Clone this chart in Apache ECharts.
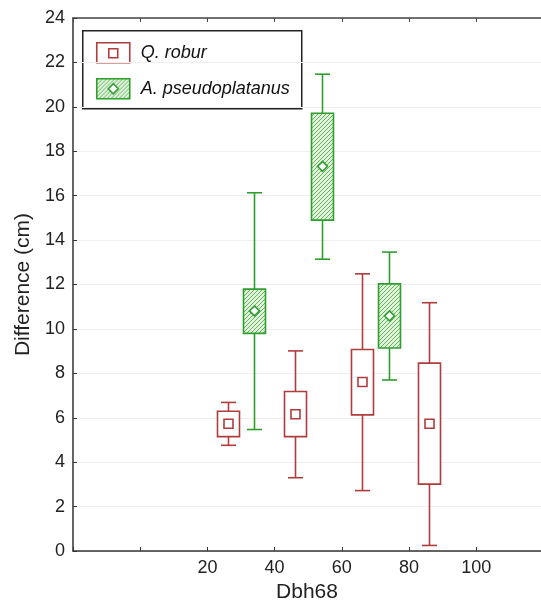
<!DOCTYPE html>
<html lang="en">
<head>
    <meta charset="UTF-8">
    <title>Difference vs Dbh68</title>
    <script type="text/javascript" src="https://cdn.jsdelivr.net/npm/echarts@6/dist/echarts.min.js"></script>
    <style>
        html, body { margin: 0; padding: 0; background: #fff; }
        #main { width: 541px; height: 608px; }
    </style>
</head>
<body>
<div id="main"></div>
<script type="text/javascript">
    // Q. robur
    var robX = [26, 46, 66, 86];
    var robWhLow = [4.76, 3.30, 2.72, 0.25];
    var robBoxLow = [5.15, 5.15, 6.13, 3.01];
    var robBoxHigh = [6.29, 7.18, 9.07, 8.46];
    var robWhHigh = [6.69, 9.01, 12.48, 11.18];
    var robMean = [5.73, 6.16, 7.61, 5.73];

    // A. pseudoplatanus
    var psX = [34, 54, 74];
    var psWhLow = [5.47, 13.14, 7.70];
    var psBoxLow = [9.80, 14.90, 9.14];
    var psBoxHigh = [11.79, 19.71, 12.03];
    var psWhHigh = [16.13, 21.47, 13.46];
    var psMean = [10.81, 17.32, 10.59];

    var xTicksShown = [20, 40, 60, 80, 100];

    var RED = '#b03c3c';
    var GREEN = '#2f9e2f';
    var FONT = 'Liberation Sans, Arial, sans-serif';

    // hatch fill for the green boxes
    function makeHatch() {
        var s = 4;
        var c = document.createElement('canvas');
        c.width = s; c.height = s;
        var ctx = c.getContext('2d');
        ctx.fillStyle = '#e2f2dd';
        ctx.fillRect(0, 0, s, s);
        ctx.strokeStyle = '#5fb858';
        ctx.lineWidth = 1;
        ctx.beginPath();
        ctx.moveTo(-1, s + 1); ctx.lineTo(s + 1, -1);
        ctx.moveTo(-1, 1); ctx.lineTo(1, -1);
        ctx.moveTo(s - 1, s + 1); ctx.lineTo(s + 1, s - 1);
        ctx.stroke();
        return c;
    }
    var hatch = makeHatch();

    function toRows(x, wl, bl, bh, wh, m) {
        var rows = [];
        for (var i = 0; i < x.length; i++) {
            rows.push([x[i], wl[i], bl[i], bh[i], wh[i], m[i]]);
        }
        return rows;
    }

    function boxRenderer(color, fill, marker) {
        return function (params, api) {
            var x = api.value(0);
            var pLo = api.coord([x, api.value(1)]);
            var pQ1 = api.coord([x, api.value(2)]);
            var pQ3 = api.coord([x, api.value(3)]);
            var pHi = api.coord([x, api.value(4)]);
            var pM = api.coord([x, api.value(5)]);
            var cx = Math.round(pQ1[0]) + 0.5;
            var hw = 11, cw = 7.5, ms = 4.5;
            var line = { stroke: color, lineWidth: 1.6 };
            var mk;
            if (marker === 'square') {
                mk = {
                    type: 'rect',
                    shape: { x: cx - ms, y: pM[1] - ms, width: ms * 2, height: ms * 2 },
                    style: { fill: '#fff', stroke: color, lineWidth: 1.6 }
                };
            } else {
                mk = {
                    type: 'polygon',
                    shape: { points: [[cx, pM[1] - ms - 0.5], [cx + ms + 0.5, pM[1]], [cx, pM[1] + ms + 0.5], [cx - ms - 0.5, pM[1]]] },
                    style: { fill: '#fff', stroke: color, lineWidth: 1.6 }
                };
            }
            return {
                type: 'group',
                children: [
                    { type: 'line', shape: { x1: cx, y1: pHi[1], x2: cx, y2: pQ3[1] }, style: line },
                    { type: 'line', shape: { x1: cx, y1: pQ1[1], x2: cx, y2: pLo[1] }, style: line },
                    { type: 'line', shape: { x1: cx - cw, y1: pHi[1], x2: cx + cw, y2: pHi[1] }, style: line },
                    { type: 'line', shape: { x1: cx - cw, y1: pLo[1], x2: cx + cw, y2: pLo[1] }, style: line },
                    {
                        type: 'rect',
                        shape: { x: cx - hw, y: pQ3[1], width: hw * 2, height: pQ1[1] - pQ3[1] },
                        style: { fill: fill, stroke: color, lineWidth: 1.6 }
                    },
                    mk
                ]
            };
        };
    }

    var myChart = echarts.init(document.getElementById('main'));

    var option = {
        backgroundColor: '#fff',
        animation: false,
        grid: { left: 73, top: 18, width: 468, height: 539, containLabel: false },
        xAxis: [{
            type: 'value',
            min: -20, max: 119.3, interval: 20,
            name: 'Dbh68',
            nameLocation: 'middle',
            nameGap: 31,
            nameTextStyle: { fontFamily: FONT, fontSize: 21, color: '#222' },
            axisLine: { onZero: false, lineStyle: { color: '#333', width: 1.5 } },
            axisTick: { inside: true, length: 4, lineStyle: { color: '#333' } },
            axisLabel: {
                fontFamily: FONT, fontSize: 18, color: '#222', margin: 8,
                showMaxLabel: false,
                formatter: function (v) { return xTicksShown.indexOf(v) >= 0 ? String(v) : ''; }
            },
            splitLine: { show: false }
        }, {
            type: 'value',
            position: 'top',
            min: -20, max: 119.3, interval: 20,
            axisLine: { onZero: false, lineStyle: { color: '#444', width: 1.5 } },
            axisTick: { inside: true, length: 4, lineStyle: { color: '#444' } },
            axisLabel: { show: false },
            splitLine: { show: false }
        }],
        yAxis: {
            type: 'value',
            min: 0, max: 24, interval: 2,
            name: 'Difference (cm)',
            nameLocation: 'middle',
            nameGap: 38,
            nameTextStyle: { fontFamily: FONT, fontSize: 21, color: '#222' },
            axisLine: { show: true, onZero: false, lineStyle: { color: '#333', width: 1.5 } },
            axisTick: { show: true, inside: true, length: 4, lineStyle: { color: '#333' } },
            axisLabel: { fontFamily: FONT, fontSize: 18, color: '#222', margin: 8 },
            splitLine: { show: true, lineStyle: { color: '#efefef', width: 1 } }
        },
        series: [{
            name: 'Q. robur',
            type: 'custom',
            renderItem: boxRenderer(RED, '#fff', 'square'),
            encode: { x: 0, y: [1, 2, 3, 4, 5] },
            data: toRows(robX, robWhLow, robBoxLow, robBoxHigh, robWhHigh, robMean),
            z: 3
        }, {
            name: 'A. pseudoplatanus',
            type: 'custom',
            renderItem: boxRenderer(GREEN, { image: hatch, repeat: 'repeat' }, 'diamond'),
            encode: { x: 0, y: [1, 2, 3, 4, 5] },
            data: toRows(psX, psWhLow, psBoxLow, psBoxHigh, psWhHigh, psMean),
            z: 3
        }],
        // legend box drawn by hand (swatches carry the mean markers)
        graphic: [{
            type: 'group',
            left: 82, top: 30, z: 10,
            children: [
                { type: 'rect', shape: { x: 0, y: 0, width: 219, height: 78 }, style: { fill: '#fff', stroke: '#222', lineWidth: 1.5 } },
                { type: 'rect', shape: { x: 14, y: 12, width: 33, height: 20 }, style: { fill: '#fff', stroke: RED, lineWidth: 1.6 } },
                { type: 'rect', shape: { x: 26, y: 18, width: 9, height: 9 }, style: { fill: '#fff', stroke: RED, lineWidth: 1.6 } },
                { type: 'text', x: 58, y: 22, style: { text: 'Q. robur', font: 'italic 18px ' + FONT, fill: '#111', verticalAlign: 'middle' } },
                { type: 'rect', shape: { x: 14, y: 48, width: 33, height: 20 }, style: { fill: { image: hatch, repeat: 'repeat' }, stroke: GREEN, lineWidth: 1.6 } },
                { type: 'polygon', shape: { points: [[30.5, 53], [35.5, 58], [30.5, 63], [25.5, 58]] }, style: { fill: '#fff', stroke: GREEN, lineWidth: 1.6 } },
                { type: 'text', x: 58, y: 58, style: { text: 'A. pseudoplatanus', font: 'italic 18px ' + FONT, fill: '#111', verticalAlign: 'middle' } }
            ]
        }]
    };

    myChart.setOption(option);
</script>
</body>
</html>
